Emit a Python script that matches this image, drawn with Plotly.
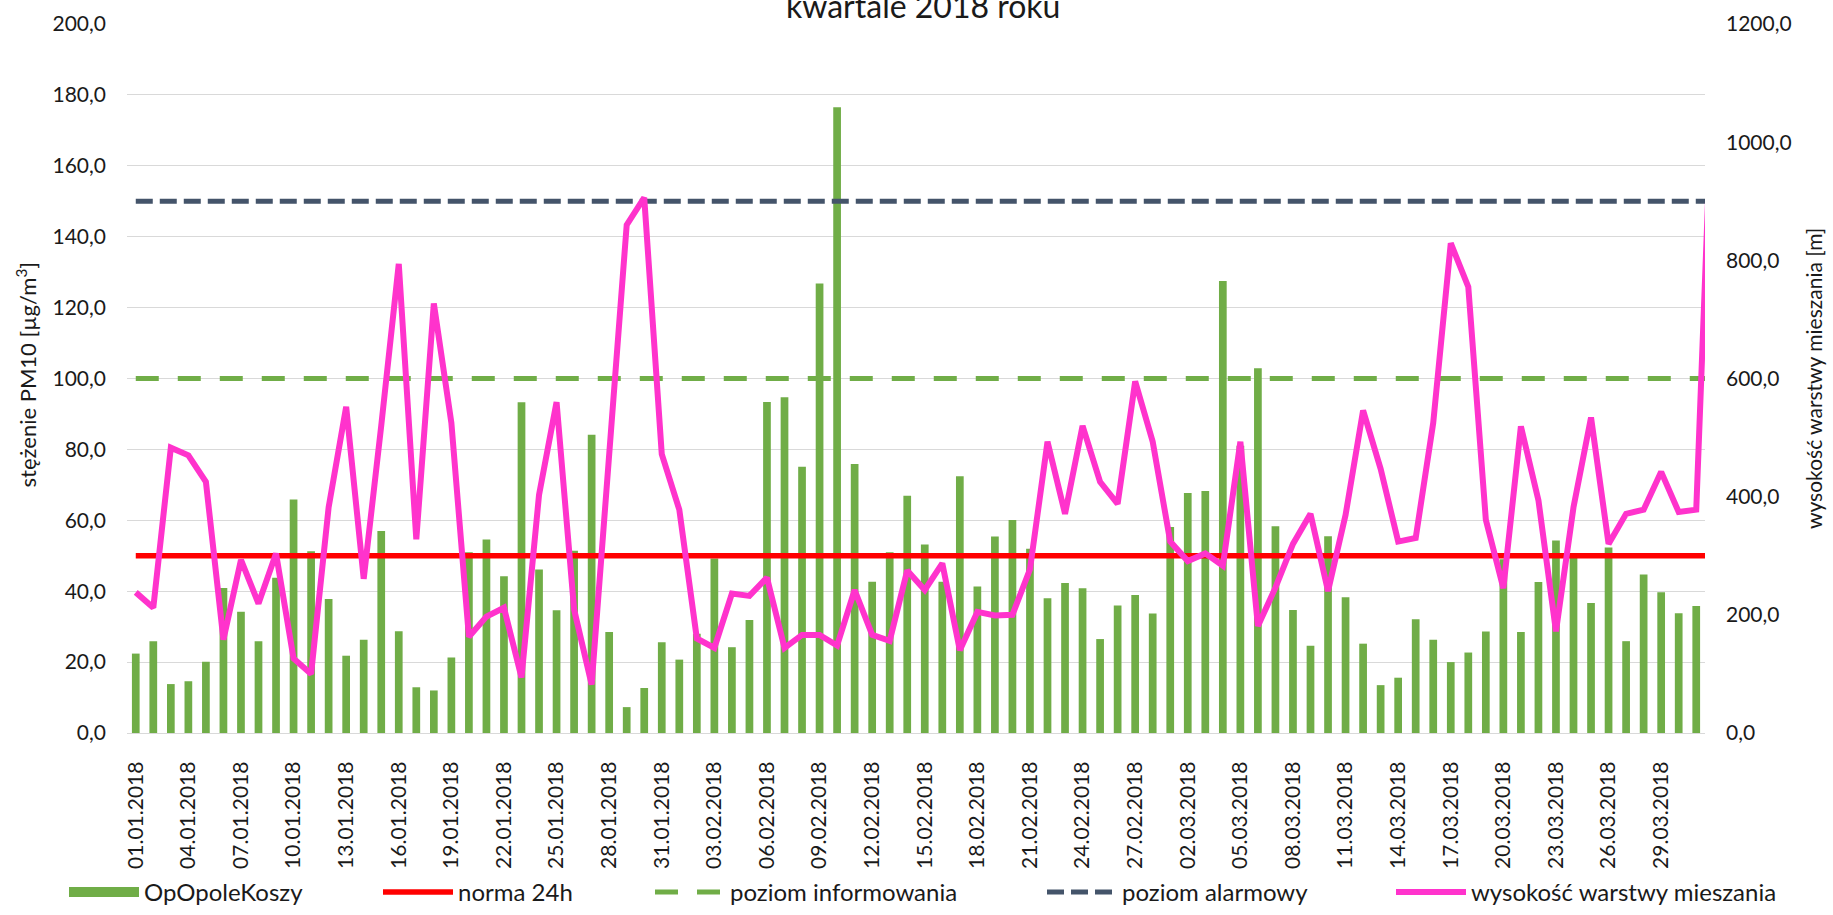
import pandas as pd
import plotly.graph_objects as go

# Days of Q1 2018 (plus 01.04 for the line series, which runs one step past the axis)
dates = pd.date_range("2018-01-01", "2018-04-01", freq="D").strftime("%d.%m.%Y").tolist()
days_q1 = dates[:90]
tick_labels = days_q1[::3]

# Daily PM10 concentration at OpOpoleKoszy [µg/m3]
pm10 = [
    22.4, 25.9, 13.8, 14.6, 20.1, 40.9, 34.2, 25.9, 43.8, 65.9,
    51.3, 37.8, 21.8, 26.3, 57.0, 28.7, 12.9, 12.0, 21.3, 51.0,
    54.6, 44.2, 93.3, 46.1, 34.6, 51.4, 84.1, 28.5, 7.3, 12.7,
    25.6, 20.7, 28.0, 49.2, 24.2, 31.9, 93.4, 94.7, 75.1, 126.8,
    176.5, 75.9, 42.7, 51.0, 66.9, 53.2, 42.7, 72.4, 41.3, 55.4,
    60.1, 52.0, 38.0, 42.3, 40.8, 26.5, 36.0, 38.9, 33.7, 58.1,
    67.7, 68.3, 127.5, 81.0, 102.9, 58.3, 34.7, 24.6, 55.5, 38.3,
    25.2, 13.5, 15.6, 32.1, 26.3, 20.0, 22.7, 28.6, 49.0, 28.5,
    42.6, 54.3, 50.6, 36.7, 52.3, 25.9, 44.7, 39.7, 33.8, 35.8,
]

# Mixing layer height [m]
mixing_height = [
    238, 212, 483, 470, 425, 158, 293, 219, 304, 126,
    100, 382, 552, 261, 520, 794, 328, 727, 525, 163,
    197, 212, 94, 403, 560, 209, 82, 472, 860, 906,
    472, 378, 160, 144, 236, 232, 263, 144, 166, 166,
    148, 242, 166, 156, 275, 242, 287, 140, 205, 199,
    200, 277, 493, 371, 520, 425, 388, 595, 493, 324,
    291, 304, 283, 493, 181, 246, 320, 371, 240, 369,
    546, 447, 324, 330, 525, 829, 755, 361, 245, 519,
    394, 172, 382, 534, 320, 371, 378, 442, 374, 378,
    1155,
]

# Threshold levels [µg/m3]
norma_24h = 50.0
poziom_informowania = 100.0
poziom_alarmowy = 150.0

FONT = "Lato"
TEXT = "#1a1a1a"
GRID = "#D9D9D9"
GREEN = "#70AD47"

W, H = 1833, 915
ML, MR, MT, MB = 127, 128, 24, 182

fig = go.Figure()

fig.add_trace(go.Bar(
    x=days_q1, y=pm10, name="OpOpoleKoszy", legendgroup="pm10", showlegend=False,
    marker=dict(color=GREEN, line=dict(width=0)),
))
# wide swatch for the bar series in its legend entry
fig.add_trace(go.Scatter(
    x=[None], y=[None], name="OpOpoleKoszy", legendgroup="pm10", legend="legend",
    mode="lines", line=dict(color=GREEN, width=10), hoverinfo="skip",
))

fig.add_trace(go.Scatter(
    x=dates, y=[norma_24h] * len(dates), name="norma 24h", mode="lines",
    line=dict(color="#FF0000", width=5.5), legend="legend2",
))
fig.add_trace(go.Scatter(
    x=dates, y=[poziom_informowania] * len(dates), name="poziom informowania", mode="lines",
    line=dict(color=GREEN, width=5, dash="23px,19px"), legend="legend3",
))
fig.add_trace(go.Scatter(
    x=dates, y=[poziom_alarmowy] * len(dates), name="poziom alarmowy", mode="lines",
    line=dict(color="#44546A", width=5, dash="17px,7px"), legend="legend4",
))
fig.add_trace(go.Scatter(
    x=dates, y=mixing_height, name="wysokość warstwy mieszania", mode="lines",
    line=dict(color="#FF33CC", width=6), yaxis="y2", legend="legend5",
))


def legend_at(px):
    return dict(
        orientation="h", xref="container", yref="container",
        x=px / W, xanchor="left", y=-0.012, yanchor="bottom",
        font=dict(family=FONT, size=24, color=TEXT),
        itemwidth=70, bgcolor="rgba(0,0,0,0)",
    )


fig.update_layout(
    width=W, height=H,
    margin=dict(l=ML, r=MR, t=MT, b=MB, autoexpand=False),
    paper_bgcolor="white", plot_bgcolor="white",
    separators=", ",
    font=dict(family=FONT, size=21, color=TEXT),
    bargap=0.56,
    showlegend=True,
    legend=legend_at(64),
    legend2=legend_at(378),
    legend3=legend_at(650),
    legend4=legend_at(1042),
    legend5=legend_at(1391),
    xaxis=dict(
        type="category", categoryorder="array", categoryarray=dates,
        range=[-0.5, 89.5], automargin=False,
        tickmode="array", tickvals=tick_labels, ticktext=tick_labels,
        tickangle=-90, ticks="", ticklabelstandoff=19,
        tickfont=dict(family=FONT, size=21, color=TEXT),
        showgrid=False, showline=True, linecolor=GRID, linewidth=1.3,
    ),
    yaxis=dict(
        range=[0, 200], dtick=20, tickformat=".1f", automargin=False,
        showgrid=True, gridcolor=GRID, gridwidth=1.3,
        zeroline=True, zerolinecolor=GRID, zerolinewidth=1.3,
        ticks="", ticklabelstandoff=20,
        tickfont=dict(family=FONT, size=21, color=TEXT),
    ),
    yaxis2=dict(
        overlaying="y", side="right", range=[0, 1200], dtick=200, tickformat=".1f",
        automargin=False,
        showgrid=False, zeroline=False, ticks="", ticklabelstandoff=20,
        tickfont=dict(family=FONT, size=21, color=TEXT),
    ),
    annotations=[
        dict(text="kwartale 2018 roku", xref="paper", yref="paper",
             x=0.5045, y=1.0265, xanchor="center", yanchor="middle",
             showarrow=False, font=dict(family=FONT, size=32, color=TEXT)),
        dict(text="stężenie PM10 [µg/m<sup>3</sup>]", xref="paper", yref="paper",
             x=-0.0637, y=0.505, xanchor="center", yanchor="middle", textangle=-90,
             showarrow=False, font=dict(family=FONT, size=22, color=TEXT)),
        dict(text="wysokość warstwy mieszania [m]", xref="paper", yref="paper",
             x=1.0688, y=0.5, xanchor="center", yanchor="middle", textangle=-90,
             showarrow=False, font=dict(family=FONT, size=21, color=TEXT)),
    ],
)

fig.write_html("out.html")
